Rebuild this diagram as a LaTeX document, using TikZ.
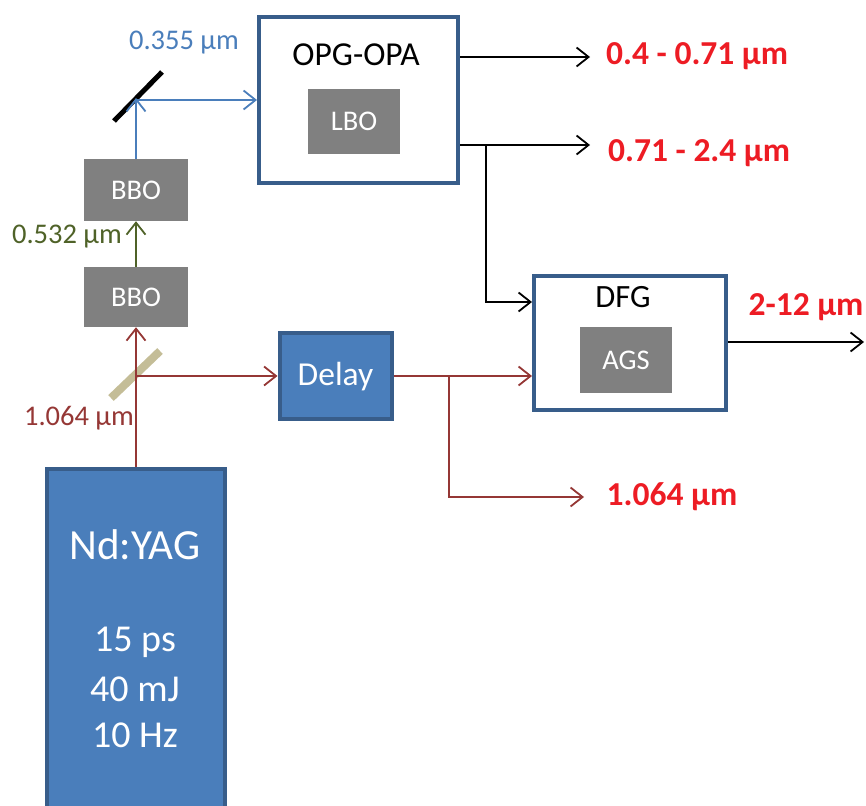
\documentclass[tikz,border=0pt]{standalone}
\usepackage{fontspec}
\setmainfont{Carlito}
\usetikzlibrary{arrows.meta}
\definecolor{boxblue}{HTML}{4A7EBB}
\definecolor{edgeblue}{HTML}{385D8A}
\definecolor{crystal}{HTML}{808080}
\definecolor{irred}{HTML}{953735}
\definecolor{greenbeam}{HTML}{4F6228}
\definecolor{uvblue}{HTML}{4A7EBB}
\definecolor{outred}{HTML}{ED1C24}
\definecolor{tan}{HTML}{C4BD97}
\newcommand{\fs}[1]{\fontsize{#1}{#1}\selectfont}
\begin{document}
\begin{tikzpicture}[x=1pt,y=-1pt,
  beam/.style={line width=1.8pt},
  tipped/.style={-{Straight Barb[length=12pt,width=19pt,line width=1.8pt]}},
  solidbox/.style={draw=edgeblue,fill=boxblue,line width=4pt,inner sep=0pt},
  openbox/.style={draw=edgeblue,fill=white,line width=4pt,inner sep=0pt},
  xtal/.style={fill=crystal,text=white,inner sep=0pt,font=\fs{28.5}},
  wlabel/.style={inner sep=0pt,font=\fs{28.5}},
  outlabel/.style={inner sep=0pt,text=outred,font=\fs{33.5}\bfseries},
  boxtitle/.style={inner sep=0pt,font=\fs{32.5}},
  white/.style={inner sep=0pt,text=white}]
\useasboundingbox (0,0) rectangle (866,805);
% laser
\node[solidbox,minimum width=178pt,minimum height=360pt,anchor=north] (yag) at (136,467) {};
\node[white,font=\fs{43}] (yagname) at (135,545) {Nd:YAG};
\node[white,font=\fs{38}] (yagps) at (135,642) {15 ps};
\node[white,font=\fs{38}] (yagmj) at (135,689) {40 mJ};
\node[white,font=\fs{38}] (yaghz) at (135,735) {10 Hz};
% crystals
\node[xtal,minimum width=104pt,minimum height=60pt] (bbo1) at (136,297) {BBO};
\node[xtal,minimum width=104pt,minimum height=62pt] (bbo2) at (136,190) {BBO};
% optics
\coordinate (bs) at (136,376);
\coordinate (mir) at (136,98);
\coordinate (mirh) at (136,100);
\draw[tan,line width=8pt] (111,398) -- (160,351);
\draw[black,line width=5pt] (114,121) -- (162,72);
% boxes
\node[solidbox,minimum width=112pt,minimum height=86pt] (delay) at (335.5,376) {};
\node[white,font=\fs{33.5}] (delaytext) at (335.5,377) {Delay};
\node[openbox,minimum width=199pt,minimum height=166pt] (opg) at (358.5,100) {};
\node[boxtitle,font=\fs{33.5}] (opgtext) at (356,55) {OPG-OPA};
\node[xtal,minimum width=92pt,minimum height=65pt] (lbo) at (354,121.5) {LBO};
\node[openbox,minimum width=192pt,minimum height=134pt] (dfg) at (630,343) {};
\node[boxtitle] (dfgtext) at (623,297) {DFG};
\node[xtal,minimum width=92pt,minimum height=66pt] (ags) at (626,360) {AGS};
% beams
\draw[beam,irred,tipped] (yag.north) -- (bbo1.south);
\draw[beam,irred,tipped] (bs) -- (delay.west);
\draw[beam,greenbeam,tipped] (bbo1.north) -- (bbo2.south);
\draw[beam,uvblue,tipped] (bbo2.north) -- (mir);
\draw[beam,uvblue,tipped] (mirh) -- (opg.west);
\coordinate (o1) at (590,57);
\coordinate (o2) at (590,145);
\coordinate (br1) at (486,145);
\coordinate (o3) at (864,342);
\coordinate (br2) at (449,376);
\coordinate (o4) at (584,497);
\draw[beam,black,tipped] (opg.east |- o1) -- (o1);
\draw[beam,black,tipped] (opg.east |- o2) -- (o2);
\draw[beam,black,tipped] (br1) |- (dfg.west |- 0,302);
\draw[beam,black,tipped] (dfg.east |- o3) -- (o3);
\draw[beam,irred,tipped] (delay.east) -- (dfg.west |- br2);
\draw[beam,irred,tipped] (br2) |- (o4);
% labels
\node[wlabel,text=uvblue] (l355) at (184,43) {0.355 µm};
\node[wlabel,text=greenbeam] (l532) at (67,237) {0.532 µm};
\node[wlabel,text=irred] (l1064) at (79,418) {1.064 µm};
\node[outlabel,anchor=west] (lvis) at (606,56) {0.4 - 0.71 µm};
\node[outlabel,anchor=west] (lnir) at (608,153) {0.71 - 2.4 µm};
\node[outlabel] (lmir) at (806,307) {2-12 µm};
\node[outlabel] (lir) at (672,497) {1.064 µm};
\end{tikzpicture}
\end{document}
